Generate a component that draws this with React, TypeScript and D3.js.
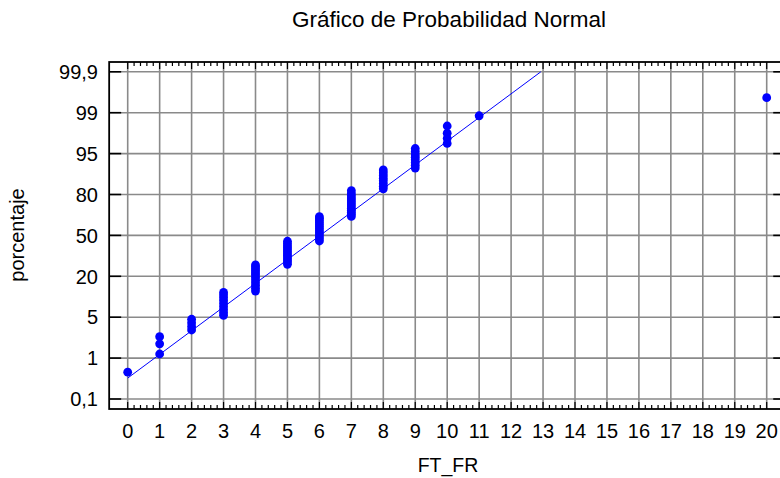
import React, { useEffect, useRef } from 'react'
import * as d3 from 'd3'

// valores del gráfico
const xTickValues = [0, 1, 2, 3, 4, 5, 6, 7, 8, 9, 10, 11, 12, 13, 14, 15, 16, 17, 18, 19, 20]
const yTickPercents = [0.1, 1, 5, 20, 50, 80, 95, 99, 99.9]
const yTickLabels = ['0,1', '1', '5', '20', '50', '80', '95', '99', '99,9']

const groupX = [0, 1, 2, 3, 4, 5, 6, 7, 8, 9, 10, 11, 20]
const groupPercents = [
    [0.69],
    [1.4, 2.4, 3.1],
    [3.75, 4.1, 4.45, 4.8],
    [5.7, 6.7, 7.8, 8.9, 10, 11.1, 12.1, 13.1, 14.1],
    [14.6, 15.6, 16.6, 17.6, 18.6, 19.6, 21, 22.5, 24, 25.5, 27, 28.3],
    [28.8, 30.5, 32, 33.5, 35, 36.5, 38, 39.5, 41, 42.5, 44, 45.7],
    [45.9, 47.5, 49, 50.5, 52, 53.5, 55, 56.5, 58, 59.5, 61, 62.5, 63.7],
    [63.9, 65.5, 67, 68.5, 70, 71.5, 73, 74.5, 76, 77.5, 79, 80.3, 81.4],
    [82.1, 83, 84, 85, 86, 87, 88, 89],
    [89.7, 90.7, 91.7, 92.7, 93.7, 94.6, 95.2, 95.5],
    [96.0, 96.5, 97.0, 97.7],
    [98.7],
    [99.33]
]

const fitX = [0, 12.93]
const fitPct = [0.56, 99.9]

const App = () => {
    const svgRef = useRef<SVGSVGElement | null>(null)

    useEffect(() => {
        const width = 780
        const height = 478
        const svg = d3.select(svgRef.current)
        svg.selectAll('*').remove()
        svg.attr('width', width).attr('height', height)

        const font = '"Liberation Sans", Arial, sans-serif'

        const xScale = d3.scaleLinear().domain([0, 20]).range([127.7, 766.7])
        // escala de probabilidad con marcas equiespaciadas
        const step = 40.9
        const yScale = d3.scaleLinear()
            .domain(yTickPercents)
            .range(yTickPercents.map((_, i) => 399 - i * step))

        const left = xScale(-0.58)
        const right = xScale(20.58)
        const top = 62
        const bottom = 409

        // rejilla
        const grid = svg.append('g').attr('stroke', '#8a8a8a').attr('stroke-width', 1.6)
        grid.selectAll('line.v')
            .data(xTickValues)
            .enter()
            .append('line')
            .attr('x1', d => xScale(d))
            .attr('x2', d => xScale(d))
            .attr('y1', top)
            .attr('y2', bottom)
        grid.selectAll('line.h')
            .data(yTickPercents)
            .enter()
            .append('line')
            .attr('x1', left)
            .attr('x2', right)
            .attr('y1', d => yScale(d))
            .attr('y2', d => yScale(d))

        // marco
        svg.append('rect')
            .attr('x', left)
            .attr('y', top)
            .attr('width', right - left)
            .attr('height', bottom - top)
            .attr('fill', 'none')
            .attr('stroke', '#000')
            .attr('stroke-width', 1.8)

        // marcas del eje x (arriba y abajo, hacia dentro)
        const minor = d3.range(0, 20.001, 0.2)
        const ticks = svg.append('g').attr('stroke', '#000').attr('stroke-width', 1.2)
        minor.forEach(v => {
            const isMajor = Math.abs(v - Math.round(v)) < 1e-6
            const len = isMajor ? 7 : 4
            ticks.append('line')
                .attr('x1', xScale(v)).attr('x2', xScale(v))
                .attr('y1', bottom).attr('y2', bottom - len)
            ticks.append('line')
                .attr('x1', xScale(v)).attr('x2', xScale(v))
                .attr('y1', top).attr('y2', top + len)
        })
        // marcas del eje y
        yTickPercents.forEach(p => {
            ticks.append('line')
                .attr('x1', left).attr('x2', left + 12)
                .attr('y1', yScale(p)).attr('y2', yScale(p))
                .attr('stroke-width', 1.6)
            ticks.append('line')
                .attr('x1', right).attr('x2', right - 12)
                .attr('y1', yScale(p)).attr('y2', yScale(p))
                .attr('stroke-width', 1.6)
        })

        // etiquetas
        svg.append('g')
            .selectAll('text')
            .data(xTickValues)
            .enter()
            .append('text')
            .attr('x', d => xScale(d))
            .attr('y', 437.5)
            .attr('text-anchor', 'middle')
            .attr('font-family', font)
            .attr('font-size', 20)
            .attr('fill', '#000')
            .text(d => String(d))

        svg.append('g')
            .selectAll('text')
            .data(yTickPercents)
            .enter()
            .append('text')
            .attr('x', 98)
            .attr('y', d => yScale(d))
            .attr('dy', '0.36em')
            .attr('text-anchor', 'end')
            .attr('font-family', font)
            .attr('font-size', 20)
            .attr('fill', '#000')
            .text((d, i) => yTickLabels[i])

        svg.append('text')
            .attr('x', 449)
            .attr('y', 27)
            .attr('text-anchor', 'middle')
            .attr('font-family', font)
            .attr('font-size', 22.5)
            .attr('fill', '#000')
            .text('Gráfico de Probabilidad Normal')

        svg.append('text')
            .attr('x', 448)
            .attr('y', 472)
            .attr('text-anchor', 'middle')
            .attr('font-family', font)
            .attr('font-size', 19.5)
            .attr('fill', '#000')
            .text('FT_FR')

        svg.append('text')
            .attr('transform', 'translate(24,235) rotate(-90)')
            .attr('text-anchor', 'middle')
            .attr('font-family', font)
            .attr('font-size', 20)
            .attr('fill', '#000')
            .text('porcentaje')

        // recta ajustada
        svg.append('line')
            .attr('x1', xScale(fitX[0]))
            .attr('y1', yScale(fitPct[0]))
            .attr('x2', xScale(fitX[1]))
            .attr('y2', yScale(fitPct[1]))
            .attr('stroke', '#0000ff')
            .attr('stroke-width', 1)

        // puntos
        const points = groupX.flatMap((x, i) => groupPercents[i].map(p => [x, p]))
        svg.append('g')
            .selectAll('circle')
            .data(points)
            .enter()
            .append('circle')
            .attr('cx', d => xScale(d[0]))
            .attr('cy', d => yScale(d[1]))
            .attr('r', 4.4)
            .attr('fill', '#0000ff')
    }, [])

    return (
        <div>
            <svg ref={svgRef} style={{ position: 'absolute', left: 0, top: 0 }}></svg>
        </div>
    )
}

export default App
